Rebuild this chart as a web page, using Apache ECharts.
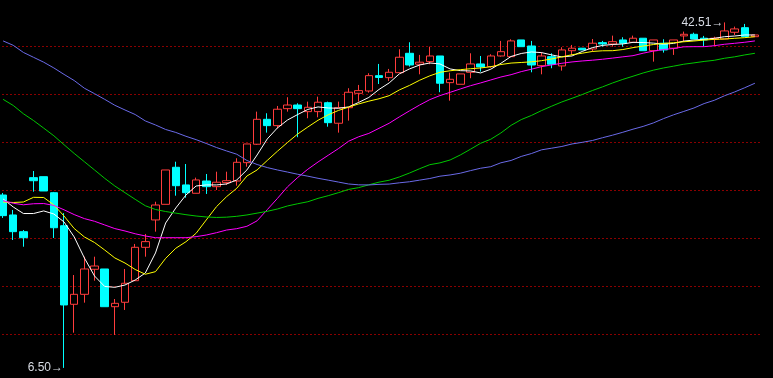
<!DOCTYPE html>
<html>
<head>
<meta charset="utf-8">
<script src="https://cdn.jsdelivr.net/npm/echarts@6/dist/echarts.min.js"></script>
<style>
html,body{margin:0;padding:0;background:#000;overflow:hidden;width:773px;height:378px;position:relative;}
#chart{position:absolute;left:-3px;top:-2px;width:779px;height:385px;}
</style>
</head>
<body>
<div id="chart"></div>
<script>
var categories = [];
for (var k = 1; k <= 75; k++) categories.push(String(k));

var opens = [24.52,22.44,20.70,26.33,26.43,24.76,21.32,13.13,14.17,16.78,16.81,12.88,13.34,15.59,19.07,21.92,23.55,27.41,25.57,24.70,25.98,25.39,25.81,25.98,27.89,29.81,32.41,31.75,33.52,33.90,33.21,33.21,34.14,32.00,33.62,35.12,35.36,36.96,36.75,37.27,39.29,38.15,38.42,39.01,36.23,36.06,37.31,38.18,37.90,39.01,38.94,40.68,40.05,38.00,38.94,37.97,39.56,39.82,39.74,40.40,40.26,40.68,40.44,40.86,39.56,40.34,39.82,41.10,41.27,40.86,40.75,40.78,41.48,41.96,41.02];
var closes = [22.37,20.70,20.07,26.01,24.94,21.11,13.06,14.17,16.81,17.12,12.88,13.23,15.32,19.07,19.66,23.48,27.13,25.49,24.76,26.09,25.39,25.85,26.01,27.93,29.84,32.41,31.75,33.46,33.90,33.52,33.66,34.19,32.06,33.62,35.23,35.40,36.96,36.77,37.31,38.88,38.07,38.36,39.01,36.17,36.58,37.14,38.18,37.87,39.01,39.46,40.58,39.98,38.07,39.01,38.15,39.64,39.82,39.64,40.34,40.26,40.50,40.34,40.86,39.56,40.68,39.64,40.68,41.27,40.78,40.68,40.86,41.62,41.83,41.02,41.20];
var lows = [22.13,19.83,19.13,24.87,24.94,20.04,6.50,10.17,13.30,15.59,12.88,9.93,12.54,15.59,18.09,20.70,23.55,24.45,24.24,24.70,24.63,25.04,25.57,25.49,27.47,29.74,31.02,31.48,33.21,30.54,32.52,32.62,31.64,31.02,32.27,34.25,35.19,36.09,36.41,37.27,37.90,37.10,38.15,35.23,34.35,36.06,36.69,37.38,37.79,38.94,38.94,39.98,37.31,37.10,37.73,37.48,39.12,39.64,39.46,39.98,39.98,39.98,40.44,39.56,38.42,39.36,39.12,40.50,40.78,40.05,40.05,40.78,41.20,41.02,41.02];
var highs = [24.73,22.96,20.87,27.02,26.43,24.84,22.63,16.18,18.09,18.09,16.81,13.68,16.81,19.42,20.46,23.82,27.13,27.99,27.75,26.33,26.71,26.95,26.95,28.35,29.84,33.21,33.04,33.80,34.71,34.08,34.25,34.77,34.25,34.25,35.65,35.99,37.21,38.18,37.66,39.71,40.44,39.12,39.98,39.01,37.27,37.14,39.29,39.01,39.19,40.58,40.75,40.68,40.58,39.40,39.29,39.92,40.16,39.82,40.78,40.58,41.13,40.96,41.13,40.86,40.68,40.75,40.68,41.55,41.44,41.10,41.02,42.51,42.07,42.35,41.20];

var ma5 = [24.11,23.27,22.59,22.59,22.86,22.54,21.71,20.15,17.96,16.08,14.99,14.90,15.14,15.66,16.39,18.48,21.60,23.17,24.52,25.46,25.57,25.57,25.67,26.09,27.13,28.69,30.36,31.51,32.34,32.91,33.44,33.70,33.59,33.56,33.70,34.17,34.69,35.52,36.20,37.14,37.66,38.07,38.28,38.18,37.66,37.48,37.45,37.24,37.63,38.25,38.96,39.27,39.43,39.36,39.12,38.91,39.01,39.48,39.88,40.11,40.21,40.26,40.43,40.41,40.35,40.24,40.32,40.56,40.67,40.74,40.85,41.02,41.09,41.20,41.20];
var ma10 = [23.79,23.74,23.79,24.28,24.26,23.48,22.33,21.03,20.15,19.57,18.79,17.96,17.43,16.76,16.26,16.53,17.92,18.97,19.65,20.53,21.92,23.30,24.35,25.22,26.50,27.13,28.12,29.08,30.00,30.88,31.61,32.31,32.88,33.33,33.68,34.01,34.30,34.55,34.87,35.47,35.94,36.48,36.94,37.31,37.47,37.58,37.68,37.76,37.89,38.12,38.27,38.33,38.40,38.52,38.70,38.92,39.14,39.30,39.48,39.55,39.56,39.68,39.88,40.05,40.20,40.32,40.39,40.49,40.57,40.67,40.74,40.78,40.85,40.92,41.02];
var ma20 = [23.92,23.66,23.50,23.61,23.63,23.43,22.98,22.48,22.06,21.78,21.40,21.02,20.77,20.48,20.25,20.07,20.07,20.07,20.07,20.18,20.35,20.59,20.87,21.01,21.26,21.83,22.99,24.16,25.38,26.35,27.21,27.96,28.66,29.35,30.12,30.59,30.94,31.47,32.00,32.66,33.29,33.90,34.46,34.88,35.22,35.57,35.91,36.20,36.51,36.82,37.06,37.38,37.63,37.90,38.08,38.25,38.39,38.49,38.57,38.67,38.79,38.92,39.04,39.30,39.52,39.68,39.79,39.96,39.98,39.98,40.08,40.23,40.33,40.44,40.58];
var ma60 = [34.49,33.85,32.99,32.28,31.49,30.69,29.76,28.85,27.99,27.13,26.26,25.46,24.76,24.07,23.40,23.01,22.80,22.63,22.47,22.33,22.23,22.18,22.21,22.30,22.44,22.63,22.82,23.06,23.38,23.61,23.82,24.17,24.45,24.76,25.10,25.29,25.58,25.86,26.06,26.40,26.81,27.26,27.68,27.87,28.17,28.69,29.29,29.91,30.33,30.99,31.78,32.38,32.81,33.32,33.78,34.22,34.60,34.99,35.41,35.79,36.20,36.57,36.90,37.24,37.53,37.76,37.95,38.15,38.29,38.44,38.56,38.77,38.92,39.12,39.29];
var ma120 = [40.58,40.12,39.38,38.87,38.36,37.76,37.09,36.45,35.65,35.08,34.49,33.87,33.38,32.91,32.24,31.82,31.35,31.04,30.64,30.29,29.89,29.47,29.11,28.77,28.12,27.70,27.38,27.13,26.91,26.68,26.48,26.26,26.07,25.87,25.67,25.58,25.57,25.63,25.66,25.79,25.90,26.07,26.24,26.48,26.61,26.79,27.06,27.31,27.47,27.88,28.12,28.54,28.84,29.23,29.40,29.58,29.84,30.01,30.20,30.49,30.76,31.06,31.38,31.67,32.03,32.48,32.88,33.23,33.59,34.05,34.39,34.86,35.26,35.70,36.17];

var yTicks = {min: 5, max: 45, interval: 5};

var candleData = categories.map(function (c, i) {
  return [opens[i], closes[i], lows[i], highs[i]];
});

var hiIdx = 0, loIdx = 0;
for (var i = 0; i < highs.length; i++) {
  if (highs[i] > highs[hiIdx]) hiIdx = i;
  if (lows[i] < lows[loIdx]) loIdx = i;
}

function maSeries(name, data, color) {
  return {
    name: name, type: 'line', data: data, symbol: 'none', smooth: false,
    lineStyle: {color: color, width: 1}, z: 3, silent: true
  };
}

var chart = echarts.init(document.getElementById('chart'), null, {renderer: 'canvas'});
chart.setOption({
  backgroundColor: '#000000',
  animation: false,
  grid: {left: 1, right: 16, top: 0.5, bottom: 0.7, containLabel: false},
  xAxis: {
    type: 'category', data: categories, boundaryGap: true,
    axisLine: {show: false}, axisTick: {show: false}, axisLabel: {show: false},
    splitLine: {show: false}
  },
  yAxis: {
    type: 'value', min: yTicks.min, max: yTicks.max, interval: yTicks.interval,
    axisLine: {show: false}, axisTick: {show: false}, axisLabel: {show: false},
    splitLine: {show: true, lineStyle: {color: '#8a0000', type: [2, 2], width: 1}}
  },
  series: [
    {
      name: 'K', type: 'candlestick', data: candleData, barWidth: 8, z: 2,
      itemStyle: {
        color: '#000000', color0: '#00ffff',
        borderColor: '#ff3c3c', borderColor0: '#00ffff', borderWidth: 1
      },
      markPoint: {
        symbol: 'circle', symbolSize: 0, silent: true,
        label: {
          show: true, position: 'left', distance: 1,
          color: '#d8dce4', fontSize: 12, fontFamily: 'Liberation Sans, Arial, sans-serif'
        },
        data: [
          {coord: [hiIdx, highs[hiIdx]], value: highs[hiIdx],
           label: {formatter: highs[hiIdx].toFixed(2) + '\u2192'}},
          {coord: [loIdx, lows[loIdx]], value: lows[loIdx],
           label: {formatter: lows[loIdx].toFixed(2) + '\u2192'}}
        ]
      }
    },
    maSeries('MA5', ma5, '#ffffff'),
    maSeries('MA10', ma10, '#ffff00'),
    maSeries('MA20', ma20, '#ff00ff'),
    maSeries('MA60', ma60, '#00c800'),
    maSeries('MA120', ma120, '#6a6ae8')
  ]
});
</script>
</body>
</html>
